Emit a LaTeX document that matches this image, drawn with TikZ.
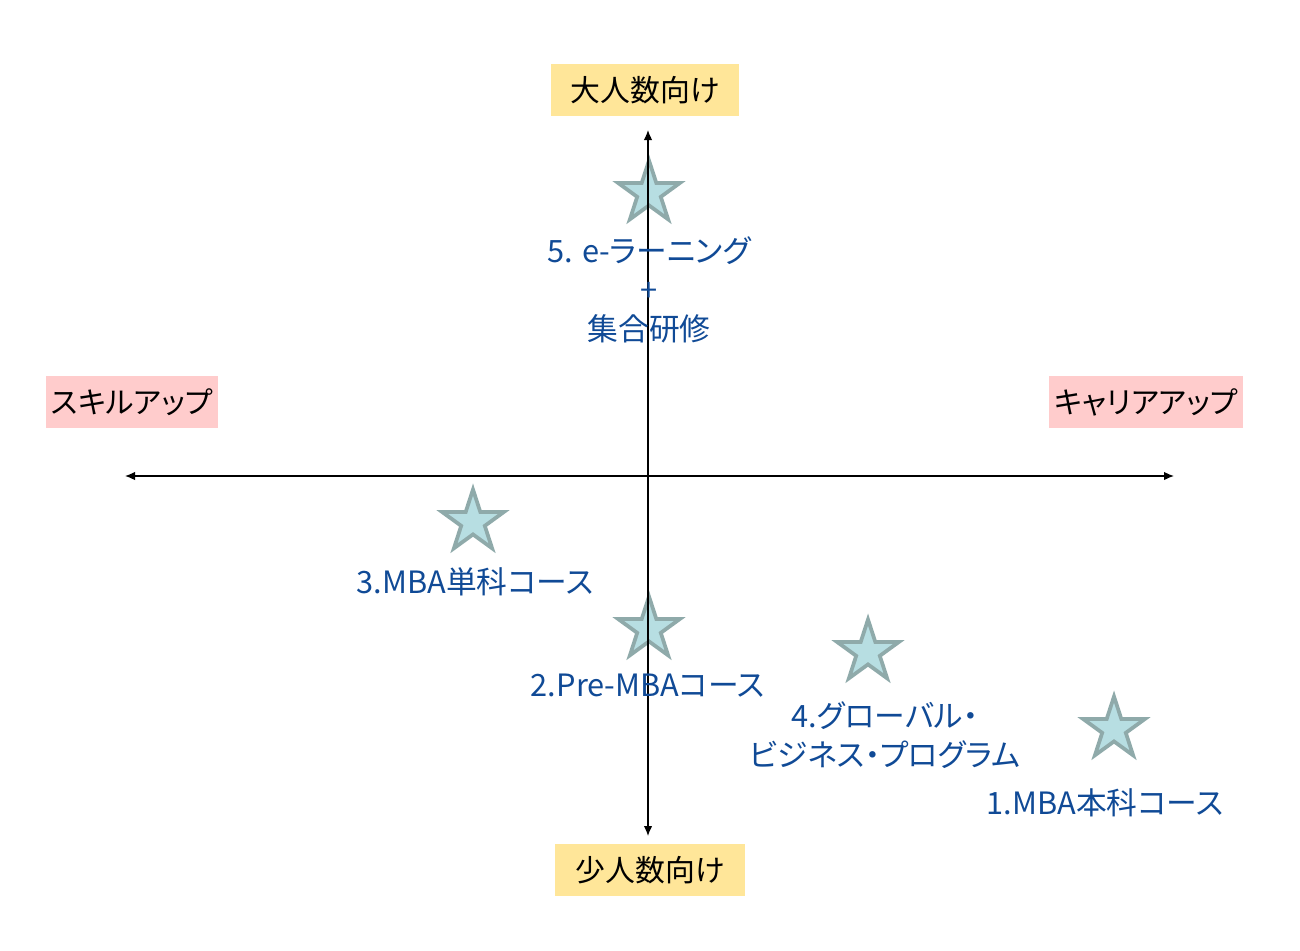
\documentclass[tikz,border=0pt]{standalone}
\usepackage{fontspec}
\setmainfont{Noto Sans CJK JP}[RawFeature=+palt]
\usetikzlibrary{shapes, arrows.meta, positioning}
\definecolor{boxyellow}{RGB}{255,230,153}
\definecolor{boxpink}{RGB}{255,204,204}
\definecolor{starfill}{RGB}{183,222,226}
\definecolor{stardraw}{RGB}{143,170,170}
\definecolor{textblue}{RGB}{16,74,150}

\begin{document}
\begin{tikzpicture}[
    x=0.02cm, y=-0.02cm,
    line width=0.7pt,
    ]
    \tikzstyle{course}=[star, star points=5, star point ratio=2.618, draw=stardraw, fill=starfill, line width=0.075cm, minimum size=1.3cm, inner sep=0pt]
    \tikzstyle{course label}=[text=textblue, font=\fontsize{17.5pt}{22pt}\selectfont, align=center, inner sep=0pt]
    \tikzstyle{axis label}=[font=\fontsize{17pt}{20pt}\selectfont, inner sep=0pt, minimum height=1.03cm]
    \useasboundingbox (0,0) rectangle (1300,950);
    % stars
    \node[course] (S5) at (649,193) {};
    \node[course] (S3) at (473,522) {};
    \node[course] (S2) at (649,629) {};
    \node[course] (S4) at (868,652) {};
    \node[course] (S1) at (1114,729) {};
    % axes
    \coordinate (top) at (648,130);
    \coordinate (bottom) at (648,836);
    \coordinate (left) at (125,476);
    \coordinate (right) at (1174,476);
    \draw[{Latex[length=0.2cm,width=0.17cm]}-{Latex[length=0.2cm,width=0.17cm]}] (bottom) -- (top);
    \draw[{Latex[length=0.2cm,width=0.17cm]}-{Latex[length=0.2cm,width=0.17cm]}] (left) -- (right);
    % axis labels
    \node[axis label, fill=boxyellow, minimum width=3.76cm] (many) at (645,90) {大人数向け};
    \node[axis label, fill=boxyellow, minimum width=3.8cm] (few) at (650,870) {少人数向け};
    \node[axis label, fill=boxpink, minimum width=3.46cm] (skill) at (132,402) {スキルアップ};
    \node[axis label, fill=boxpink, minimum width=3.88cm] (career) at (1146,402) {キャリアアップ};
    % course labels
    \node[course label] (L5) at (649,290) {5. e-ラーニング\\+\\集合研修};
    \node[course label] (L3) at (475,582) {3.MBA単科コース};
    \node[course label] (L2) at (648,686) {2.Pre-MBAコース};
    \node[course label] (L4) at (885,735) {4.グローバル・\\ビジネス・プログラム};
    \node[course label] (L1) at (1105,803) {1.MBA本科コース};
\end{tikzpicture}
\end{document}
